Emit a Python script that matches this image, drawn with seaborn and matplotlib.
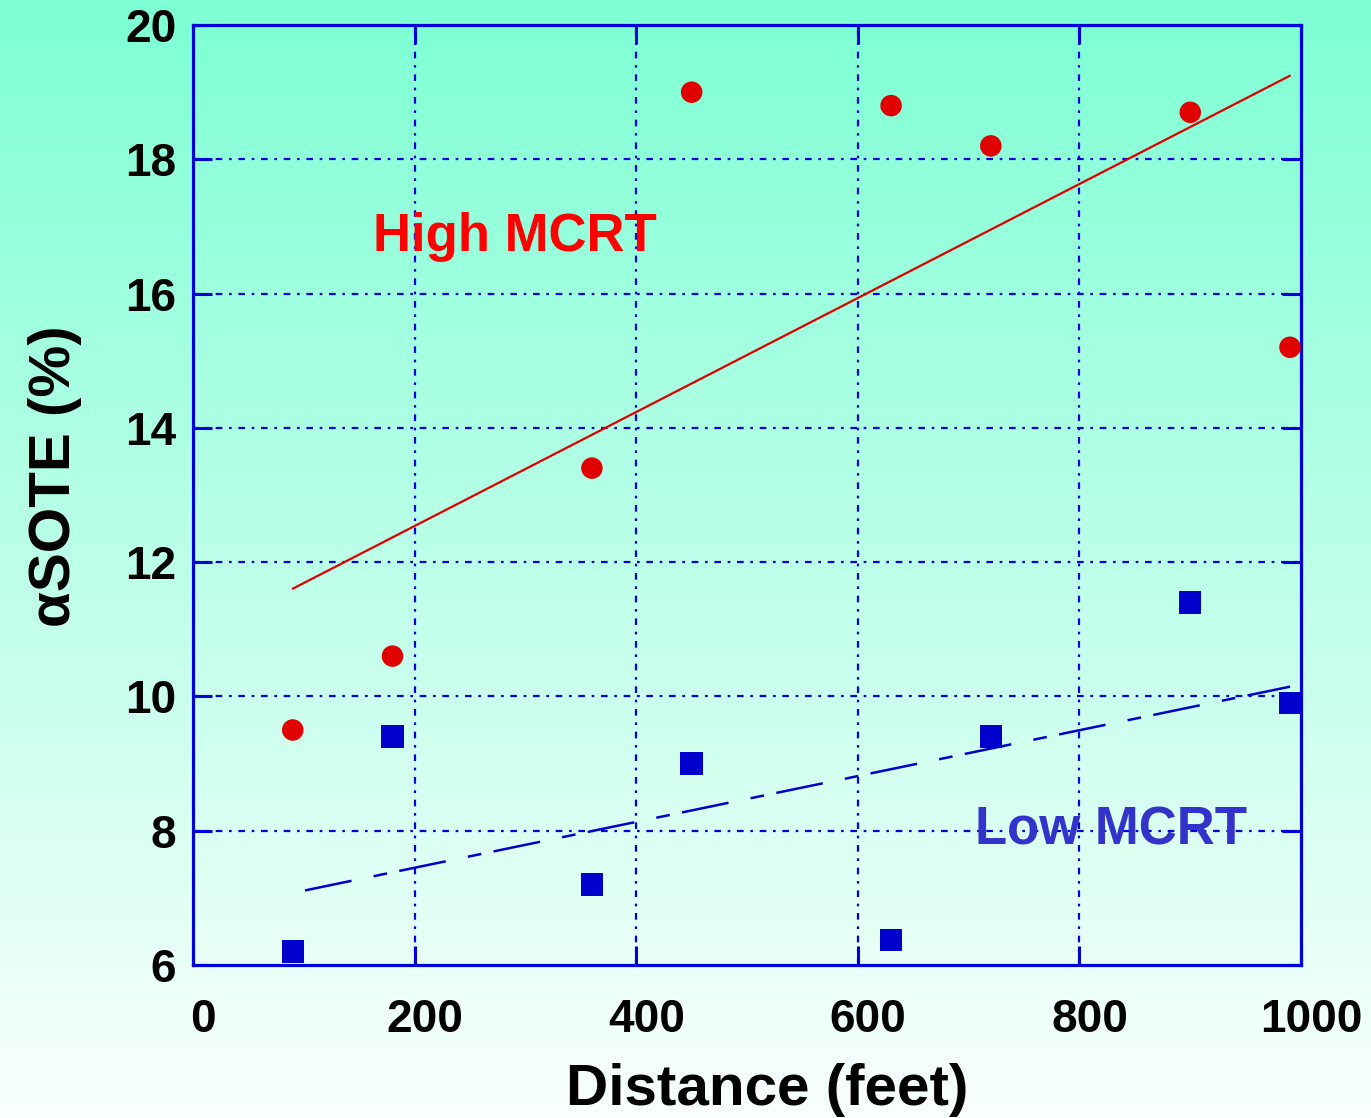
import numpy as np
import pandas as pd
import matplotlib
matplotlib.use("Agg")
import matplotlib.pyplot as plt
import matplotlib.transforms as mtransforms
import seaborn as sns

# ---- data ----
distance = [90, 180, 360, 450, 630, 720, 900, 990]
high_mcrt = [9.5, 10.6, 13.4, 19.0, 18.8, 18.2, 18.7, 15.2]
low_mcrt = [6.2, 9.4, 7.2, 9.0, 6.37, 9.4, 11.4, 9.9]
x_ticks = [0, 200, 400, 600, 800, 1000]
y_ticks = [6, 8, 10, 12, 14, 16, 18, 20]

df = pd.DataFrame({"distance": distance, "high": high_mcrt, "low": low_mcrt})

sns.set_theme(style="ticks")
plt.rcParams['font.family'] = ['Liberation Sans', 'DejaVu Sans']
plt.rcParams['font.weight'] = 'bold'
plt.rcParams['text.color'] = 'black'
plt.rcParams['axes.labelcolor'] = 'black'

fig = plt.figure(figsize=(13.71, 11.18), dpi=100)

# background gradient over the whole figure
bg = fig.add_axes([0, 0, 1, 1], zorder=0)
top = np.array([0.49, 1.0, 0.83])
bot = np.array([0.98, 1.0, 0.99])
t = np.linspace(0, 1, 256)[:, None]
grad = top[None, :] * (1 - t) + bot[None, :] * t
bg.imshow(grad[:, None, :], aspect='auto', extent=[0, 1, 0, 1], origin='upper')
bg.axis('off')

ax = fig.add_axes([0.1408, 0.1369, 0.9490 - 0.1408, 0.9776 - 0.1369], zorder=1)
ax.set_facecolor('none')

blue = '#0000DD'
grid_ls = (0, (3.0, 3.0, 1.2, 3.0))
ax.set_xlim(0, 1000)
ax.set_ylim(6, 20)
ax.set_xticks(x_ticks)
ax.set_yticks(y_ticks)
for v in x_ticks[1:-1]:
    ax.axvline(v, color=blue, lw=1.6, ls=grid_ls, zorder=1)
for v in y_ticks[1:-1]:
    ax.axhline(v, color=blue, lw=1.6, ls=grid_ls, zorder=1)

# regression lines
sns.regplot(data=df, x="distance", y="high", ax=ax, scatter=False, ci=None,
            truncate=True, line_kws=dict(color='#E00000', lw=1.6, zorder=2))
sns.regplot(data=df, x="distance", y="low", ax=ax, scatter=False, ci=None,
            truncate=True,
            line_kws=dict(color='#0000CC', lw=1.8, zorder=2,
                          ls=(33.5, (19, 9, 5.5, 5))))

# markers
sns.scatterplot(data=df, x="distance", y="high", ax=ax, marker='o', s=240,
                color='#E00000', edgecolor='none', zorder=3, clip_on=False)
sns.scatterplot(data=df, x="distance", y="low", ax=ax, marker='s', s=260,
                color='#0000CC', edgecolor='none', zorder=3, clip_on=False)

ax.set_xlim(0, 1000)
ax.set_ylim(6, 20)

for s in ax.spines.values():
    s.set_color(blue)
    s.set_linewidth(2.3)
    s.set_visible(True)

ax.tick_params(direction='in', length=14, width=2.2, color=blue,
               top=True, right=True, labelsize=33)
ax.tick_params(axis='x', pad=24)
ax.tick_params(axis='y', pad=12)
shift = mtransforms.ScaledTranslation(0.10, 0, fig.dpi_scale_trans)
for lab in ax.get_xticklabels():
    lab.set_transform(lab.get_transform() + shift)
for lab in ax.get_xticklabels() + ax.get_yticklabels():
    lab.set_fontweight('bold')
    lab.set_color('black')

ax.set_xlabel('Distance (feet)', fontsize=42, fontweight='bold', color='black')
ax.set_ylabel('αSOTE (%)', fontsize=42, fontweight='bold', color='black')
ax.xaxis.set_label_coords(0.518, -0.1045)
ax.yaxis.set_label_coords(-0.100, 0.52)

ax.text(162, 16.84, 'High MCRT', color='#FF0000', fontsize=38, fontweight='bold',
        ha='left', va='center', zorder=4)
ax.text(706, 8.0, 'Low MCRT', color='#3333CC', fontsize=38,
        fontweight='bold', ha='left', va='center', zorder=4)

fig.savefig('out.png', dpi=100)
